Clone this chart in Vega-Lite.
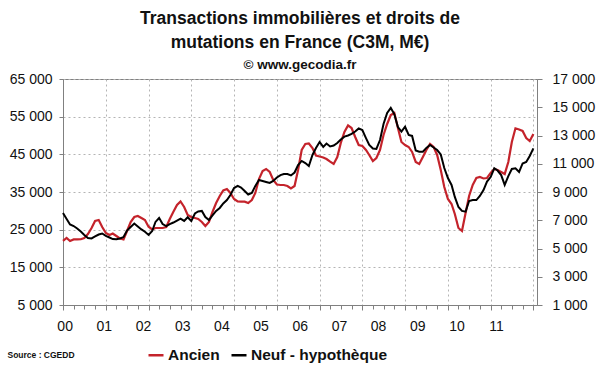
{
  "$schema": "https://vega.github.io/schema/vega-lite/v6.json",
  "width": 474,
  "height": 226,
  "autosize": {"type": "none"},
  "padding": {"left": 63, "top": 79, "right": 63, "bottom": 67},
  "background": "white",
  "title": {
    "text": ["Transactions immobilières et droits de", "mutations en France (C3M, M€)"],
    "subtitle": "© www.gecodia.fr",
    "font": "Liberation Sans",
    "fontSize": 17.5,
    "fontWeight": "bold",
    "color": "#111",
    "subtitleFont": "Liberation Sans",
    "subtitleFontSize": 13.5,
    "subtitleFontWeight": "bold",
    "subtitleColor": "#111",
    "anchor": "middle",
    "frame": "group",
    "lineHeight": 24,
    "subtitlePadding": 6,
    "offset": 1
  },
  "data": {"values": [
    {"date":"2000-01","ancien":22000,"neuf":7510},{"date":"2000-02","ancien":22800,"neuf":7090},{"date":"2000-03","ancien":22000,"neuf":6700},{"date":"2000-04","ancien":22400,"neuf":6590},{"date":"2000-05","ancien":22400,"neuf":6420},{"date":"2000-06","ancien":22450,"neuf":6200},{"date":"2000-07","ancien":22800,"neuf":5960},{"date":"2000-08","ancien":23850,"neuf":5740},{"date":"2000-09","ancien":25440,"neuf":5710},{"date":"2000-10","ancien":27300,"neuf":5850},{"date":"2000-11","ancien":27570,"neuf":5990},{"date":"2000-12","ancien":25710,"neuf":6060},
    {"date":"2001-01","ancien":24120,"neuf":5890},{"date":"2001-02","ancien":23590,"neuf":5780},{"date":"2001-03","ancien":23980,"neuf":5670},{"date":"2001-04","ancien":23320,"neuf":5650},{"date":"2001-05","ancien":22660,"neuf":5710},{"date":"2001-06","ancien":22390,"neuf":5810},{"date":"2001-07","ancien":24650,"neuf":6270},{"date":"2001-08","ancien":27040,"neuf":6520},{"date":"2001-09","ancien":28360,"neuf":6770},{"date":"2001-10","ancien":28630,"neuf":6560},{"date":"2001-11","ancien":28100,"neuf":6350},{"date":"2001-12","ancien":27570,"neuf":6190},
    {"date":"2002-01","ancien":25790,"neuf":5960},{"date":"2002-02","ancien":25050,"neuf":6240},{"date":"2002-03","ancien":25440,"neuf":6880},{"date":"2002-04","ancien":25440,"neuf":7160},{"date":"2002-05","ancien":25440,"neuf":6730},{"date":"2002-06","ancien":25710,"neuf":6590},{"date":"2002-07","ancien":27830,"neuf":6730},{"date":"2002-08","ancien":29770,"neuf":6840},{"date":"2002-09","ancien":31550,"neuf":6980},{"date":"2002-10","ancien":32480,"neuf":7120},{"date":"2002-11","ancien":31020,"neuf":6950},{"date":"2002-12","ancien":28900,"neuf":7210},
    {"date":"2003-01","ancien":28360,"neuf":6950},{"date":"2003-02","ancien":28100,"neuf":7480},{"date":"2003-03","ancien":27830,"neuf":7620},{"date":"2003-04","ancien":27040,"neuf":7660},{"date":"2003-05","ancien":25970,"neuf":7230},{"date":"2003-06","ancien":27040,"neuf":7020},{"date":"2003-07","ancien":29690,"neuf":7340},{"date":"2003-08","ancien":32080,"neuf":7660},{"date":"2003-09","ancien":33940,"neuf":7870},{"date":"2003-10","ancien":35400,"neuf":8190},{"date":"2003-11","ancien":35800,"neuf":8430},{"date":"2003-12","ancien":34740,"neuf":8790},
    {"date":"2004-01","ancien":33140,"neuf":9280},{"date":"2004-02","ancien":32480,"neuf":9430},{"date":"2004-03","ancien":32430,"neuf":9320},{"date":"2004-04","ancien":32430,"neuf":9070},{"date":"2004-05","ancien":32080,"neuf":8820},{"date":"2004-06","ancien":32880,"neuf":8930},{"date":"2004-07","ancien":34740,"neuf":9430},{"date":"2004-08","ancien":38450,"neuf":9850},{"date":"2004-09","ancien":40580,"neuf":9780},{"date":"2004-10","ancien":41110,"neuf":9710},{"date":"2004-11","ancien":40310,"neuf":9640},{"date":"2004-12","ancien":38190,"neuf":9780},
    {"date":"2005-01","ancien":36990,"neuf":10030},{"date":"2005-02","ancien":36860,"neuf":10200},{"date":"2005-03","ancien":36860,"neuf":10270},{"date":"2005-04","ancien":36590,"neuf":10270},{"date":"2005-05","ancien":35930,"neuf":10170},{"date":"2005-06","ancien":36590,"neuf":10380},{"date":"2005-07","ancien":40840,"neuf":10910},{"date":"2005-08","ancien":46150,"neuf":11200},{"date":"2005-09","ancien":47750,"neuf":11050},{"date":"2005-10","ancien":47880,"neuf":10840},{"date":"2005-11","ancien":46680,"neuf":11620},{"date":"2005-12","ancien":44690,"neuf":12120},
    {"date":"2006-01","ancien":44430,"neuf":12540},{"date":"2006-02","ancien":44160,"neuf":12190},{"date":"2006-03","ancien":43760,"neuf":12430},{"date":"2006-04","ancien":43050,"neuf":12220},{"date":"2006-05","ancien":42440,"neuf":12290},{"date":"2006-06","ancien":44290,"neuf":12470},{"date":"2006-07","ancien":48010,"neuf":12720},{"date":"2006-08","ancien":50930,"neuf":12920},{"date":"2006-09","ancien":52660,"neuf":13000},{"date":"2006-10","ancien":51990,"neuf":13110},{"date":"2006-11","ancien":49600,"neuf":13280},{"date":"2006-12","ancien":47480,"neuf":13500},
    {"date":"2007-01","ancien":47210,"neuf":13390},{"date":"2007-02","ancien":46150,"neuf":12820},{"date":"2007-03","ancien":44830,"neuf":12330},{"date":"2007-04","ancien":43230,"neuf":12080},{"date":"2007-05","ancien":44030,"neuf":12050},{"date":"2007-06","ancien":46150,"neuf":12680},{"date":"2007-07","ancien":50140,"neuf":13810},{"date":"2007-08","ancien":53060,"neuf":14590},{"date":"2007-09","ancien":55450,"neuf":14950},{"date":"2007-10","ancien":55980,"neuf":14520},{"date":"2007-11","ancien":51990,"neuf":13600},{"date":"2007-12","ancien":48280,"neuf":13270},
    {"date":"2008-01","ancien":47480,"neuf":13620},{"date":"2008-02","ancien":46950,"neuf":13040},{"date":"2008-03","ancien":45620,"neuf":12970},{"date":"2008-04","ancien":42970,"neuf":11940},{"date":"2008-05","ancien":42440,"neuf":11850},{"date":"2008-06","ancien":44290,"neuf":11850},{"date":"2008-07","ancien":46150,"neuf":12120},{"date":"2008-08","ancien":47750,"neuf":12330},{"date":"2008-09","ancien":46950,"neuf":12150},{"date":"2008-10","ancien":44830,"neuf":11970},{"date":"2008-11","ancien":40840,"neuf":11660},{"date":"2008-12","ancien":36330,"neuf":10700},
    {"date":"2009-01","ancien":33140,"neuf":9990},{"date":"2009-02","ancien":31820,"neuf":9500},{"date":"2009-03","ancien":29160,"neuf":8650},{"date":"2009-04","ancien":25440,"neuf":7940},{"date":"2009-05","ancien":24650,"neuf":7660},{"date":"2009-06","ancien":29430,"neuf":7610},{"date":"2009-07","ancien":33940,"neuf":8360},{"date":"2009-08","ancien":36860,"neuf":8430},{"date":"2009-09","ancien":38720,"neuf":8430},{"date":"2009-10","ancien":38980,"neuf":8720},{"date":"2009-11","ancien":38590,"neuf":9140},{"date":"2009-12","ancien":38720,"neuf":9740},
    {"date":"2010-01","ancien":40050,"neuf":10060},{"date":"2010-02","ancien":41110,"neuf":10680},{"date":"2010-03","ancien":40840,"neuf":10520},{"date":"2010-04","ancien":40310,"neuf":10200},{"date":"2010-05","ancien":39780,"neuf":9500},{"date":"2010-06","ancien":42970,"neuf":10130},{"date":"2010-07","ancien":48280,"neuf":10630},{"date":"2010-08","ancien":51910,"neuf":10680},{"date":"2010-09","ancien":51600,"neuf":10420},{"date":"2010-10","ancien":51200,"neuf":11020},{"date":"2010-11","ancien":49340,"neuf":11120},{"date":"2010-12","ancien":48540,"neuf":11550},
    {"date":"2011-01","ancien":50400,"neuf":12090}
  ]},
  "config": {
    "view": {"stroke": "#808080", "strokeWidth": 1},
    "font": "Liberation Sans",
    "axis": {
      "labelFont": "Liberation Sans",
      "labelFontSize": 14,
      "labelColor": "#111",
      "domainColor": "#808080",
      "tickColor": "#808080",
      "gridColor": "#b4b4b4",
      "gridDash": [2, 3],
      "gridWidth": 1
    }
  },
  "layer": [
    {
      "mark": {"type": "line", "strokeWidth": 2.2},
      "encoding": {
        "x": {
          "field": "date", "type": "temporal",
          "scale": {"type": "utc", "domain": [{"year": 2000, "month": 1, "date": 1, "utc": true}, {"year": 2011, "month": 2, "date": 1, "utc": true}]},
          "axis": {
            "orient": "bottom", "title": null, "labels": false,
            "tickCount": {"interval": "month", "step": 3},
            "tickSize": {"condition": {"test": "utcmonth(datum.value) == 0", "value": 5}, "value": 4},
            "grid": true,
            "gridOpacity": {"condition": {"test": "utcmonth(datum.value) == 0 && utcyear(datum.value) > 2000", "value": 1}, "value": 0}
          }
        },
        "y": {
          "field": "ancien", "type": "quantitative",
          "scale": {"domain": [5000, 65000], "nice": false, "zero": false},
          "axis": {
            "orient": "left", "title": null,
            "values": [5000, 15000, 25000, 35000, 45000, 55000, 65000],
            "labelExpr": "replace(format(datum.value, ','), ',', ' ')",
            "grid": true, "tickSize": 4, "labelPadding": 7
          }
        },
        "color": {
          "datum": "Ancien", "type": "nominal",
          "scale": {"domain": ["Ancien", "Neuf - hypothèque"], "range": ["#c4232b", "#000000"]},
          "legend": {
            "orient": "none", "legendX": 84, "legendY": 267, "direction": "horizontal",
            "title": null, "symbolType": "stroke", "symbolSize": 225, "symbolStrokeWidth": 2.5,
            "labelFont": "Liberation Sans", "labelFontSize": 15.5, "labelFontWeight": "bold", "labelColor": "#111",
            "labelOffset": 3, "columnPadding": 6, "padding": 0
          }
        }
      }
    },
    {
      "mark": {"type": "line", "strokeWidth": 2},
      "encoding": {
        "x": {
          "field": "date", "type": "temporal",
          "scale": {"type": "utc", "domain": [{"year": 2000, "month": 1, "date": 1, "utc": true}, {"year": 2011, "month": 2, "date": 1, "utc": true}]},
          "axis": {
            "orient": "bottom",
            "title": "Source : CGEDD",
            "titleFont": "Liberation Sans", "titleFontSize": 8.5, "titleFontWeight": "bold", "titleColor": "#111",
            "titleAnchor": "start", "titleAlign": "left", "titleBaseline": "alphabetic",
            "titleX": -56, "titleY": 52,
            "values": [
              {"year": 2000, "month": 1, "date": 15, "utc": true},
              {"year": 2000, "month": 12, "date": 15, "utc": true},
              {"year": 2001, "month": 11, "date": 15, "utc": true},
              {"year": 2002, "month": 10, "date": 15, "utc": true},
              {"year": 2003, "month": 9, "date": 15, "utc": true},
              {"year": 2004, "month": 8, "date": 15, "utc": true},
              {"year": 2005, "month": 7, "date": 15, "utc": true},
              {"year": 2006, "month": 6, "date": 15, "utc": true},
              {"year": 2007, "month": 5, "date": 15, "utc": true},
              {"year": 2008, "month": 4, "date": 15, "utc": true},
              {"year": 2009, "month": 3, "date": 15, "utc": true},
              {"year": 2010, "month": 2, "date": 15, "utc": true}
            ],
            "labelExpr": "(round(((utcyear(datum.value) - 2000) * 12 + utcmonth(datum.value)) / 11) < 10 ? '0' : '') + round(((utcyear(datum.value) - 2000) * 12 + utcmonth(datum.value)) / 11)",
            "ticks": false, "tickSize": 0, "domain": false, "grid": false,
            "labelPadding": 14, "labelFlush": false, "labelOverlap": false
          }
        },
        "y": {
          "field": "neuf", "type": "quantitative",
          "scale": {"domain": [1000, 17000], "nice": false, "zero": false},
          "axis": {
            "orient": "right", "title": null,
            "values": [1000, 3000, 5000, 7000, 9000, 11000, 13000, 15000, 17000],
            "labelExpr": "replace(format(datum.value, ','), ',', ' ')",
            "grid": false, "tickSize": 5, "labelPadding": 10
          }
        },
        "color": {"datum": "Neuf - hypothèque", "type": "nominal"}
      }
    }
  ],
  "resolve": {"scale": {"y": "independent"}, "axis": {"x": "independent"}}
}
